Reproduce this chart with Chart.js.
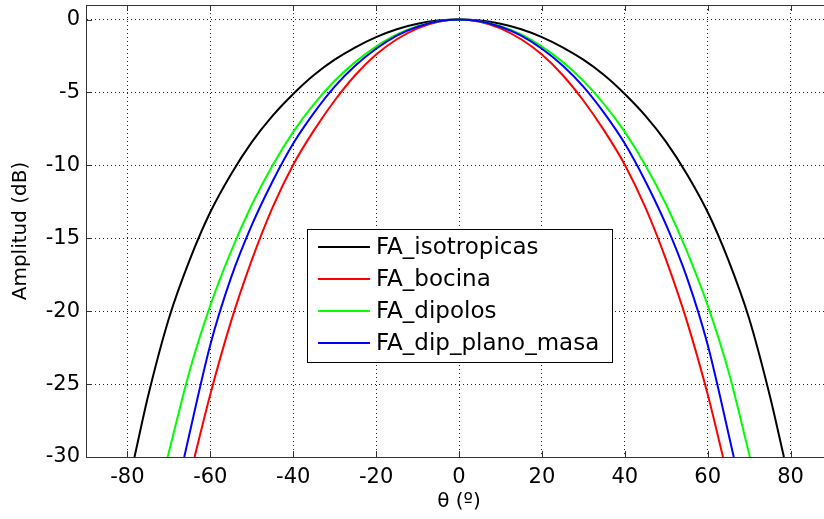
<!DOCTYPE html>
<html>
<head>
<meta charset="utf-8">
<script src="https://cdn.jsdelivr.net/npm/chart.js@4.4.0/dist/chart.umd.min.js"></script>
<style>
    body { margin: 0; background: #fff; overflow: hidden; }
    #wrap { width: 840px; height: 519px; }
</style>
</head>
<body>
<div id="wrap"><canvas id="myChart"></canvas></div>
<script>
// Diagramas de radiación (corte), amplitud normalizada en dB
const seriesNames = ['FA_isotropicas', 'FA_bocina', 'FA_dipolos', 'FA_dip_plano_masa'];
const seriesColors = ['#000000', '#ff0000', '#00ff00', '#0000ff'];

const angIso = [-78.3, -75, -70, -65, -60, -55, -50, -45, -40, -35, -30, -25, -20, -15, -10, -5, 0,
                5, 10, 15, 20, 25, 30, 35, 40, 45, 50, 55, 60, 65, 70, 75, 78.4];
const dbIso  = [-30, -25.8, -20.5, -16.5, -13.2, -10.6, -8.4, -6.6, -5.1, -3.8, -2.75, -1.9, -1.2, -0.66, -0.29, -0.07, 0,
                -0.07, -0.29, -0.66, -1.2, -1.9, -2.75, -3.8, -5.1, -6.6, -8.4, -10.6, -13.2, -16.5, -20.5, -25.8, -30];

const angBoc = [-63.8, -60, -55, -50, -45, -40, -35, -30, -25, -20, -15, -10, -5, 0,
                5, 10, 15, 20, 25, 30, 35, 40, 45, 50, 55, 60, 63.7];
const dbBoc  = [-30, -25.7, -20.7, -16.5, -12.9, -9.95, -7.6, -5.55, -3.8, -2.4, -1.35, -0.6, -0.15, 0,
                -0.15, -0.6, -1.35, -2.4, -3.8, -5.55, -7.6, -9.95, -12.9, -16.5, -20.7, -25.7, -30];

const angDip = [-70.3, -65, -60, -55, -50, -45, -40, -35, -30, -25, -20, -15, -10, -5, 0,
                5, 10, 15, 20, 25, 30, 35, 40, 45, 50, 55, 60, 65, 70.2];
const dbDip  = [-30, -24.1, -19.6, -15.9, -12.7, -10.0, -7.7, -5.8, -4.2, -2.9, -1.85, -1.02, -0.46, -0.11, 0,
                -0.11, -0.46, -1.02, -1.85, -2.9, -4.2, -5.8, -7.7, -10.0, -12.7, -15.9, -19.6, -24.1, -30];

const angPlano = [-66.3, -60, -55, -50, -45, -40, -35, -30, -25, -20, -15, -10, -5, 0,
                  5, 10, 15, 20, 25, 30, 35, 40, 45, 50, 55, 60, 66.3];
const dbPlano  = [-30, -22.3, -17.7, -14.1, -11.1, -8.5, -6.4, -4.6, -3.15, -2.0, -1.1, -0.49, -0.12, 0,
                  -0.12, -0.49, -1.1, -2.0, -3.15, -4.6, -6.4, -8.5, -11.1, -14.1, -17.7, -22.3, -30];

const xTicks = [-80, -60, -40, -20, 0, 20, 40, 60, 80];
const yTicks = [-30, -25, -20, -15, -10, -5, 0];

Chart.defaults.font.family = 'DejaVu Sans';
Chart.defaults.color = '#000';

function puntos(ang, db) {
    return ang.map((a, i) => ({ x: a, y: db[i] }));
}

const allAng = [angIso, angBoc, angDip, angPlano];
const allDb = [dbIso, dbBoc, dbDip, dbPlano];

let datasets = seriesNames.map((name, i) => ({
    label: name,
    data: puntos(allAng[i], allDb[i]),
    borderColor: seriesColors[i],
    borderWidth: 2,
    pointRadius: 0,
    showLine: true,
    fill: false,
    cubicInterpolationMode: 'monotone',
    order: 4 - i // la última serie queda encima
}));

// Marco superior, marcas interiores y leyenda dentro del área
const marcoPlugin = {
    id: 'marco',
    afterDraw(chart) {
        const ctx = chart.ctx;
        const a = chart.chartArea;
        const sx = chart.scales.x, sy = chart.scales.y;
        ctx.save();
        ctx.strokeStyle = '#333';
        ctx.lineWidth = 1;
        ctx.beginPath();
        ctx.moveTo(a.left, a.top + 0.5);
        ctx.lineTo(a.right, a.top + 0.5);
        ctx.moveTo(a.right - 0.5, a.top);
        ctx.lineTo(a.right - 0.5, a.bottom);
        xTicks.forEach(v => {
            let px = Math.round(sx.getPixelForValue(v)) + 0.5;
            ctx.moveTo(px, a.bottom);
            ctx.lineTo(px, a.bottom - 6);
            ctx.moveTo(px, a.top);
            ctx.lineTo(px, a.top + 6);
        });
        yTicks.forEach(v => {
            let py = Math.round(sy.getPixelForValue(v)) + 0.5;
            ctx.moveTo(a.left, py);
            ctx.lineTo(a.left + 6, py);
        });
        ctx.stroke();

        // leyenda
        const box = { x: 307.5, y: 229.5, w: 305, h: 133 };
        ctx.fillStyle = '#fff';
        ctx.fillRect(box.x, box.y, box.w, box.h);
        ctx.strokeStyle = '#000';
        ctx.strokeRect(box.x, box.y, box.w, box.h);
        ctx.font = '23px "DejaVu Sans"';
        ctx.textBaseline = 'middle';
        ctx.textAlign = 'left';
        seriesNames.forEach((name, i) => {
            let y = 247 + i * 32;
            ctx.strokeStyle = seriesColors[i];
            ctx.lineWidth = 2;
            ctx.beginPath();
            ctx.moveTo(318, y);
            ctx.lineTo(370, y);
            ctx.stroke();
            ctx.fillStyle = '#000';
            ctx.fillText(name, 376, y + 1);
        });
        ctx.restore();
    }
};

const fondoPlugin = {
    id: 'fondo',
    beforeDraw(chart) {
        const ctx = chart.ctx;
        ctx.save();
        ctx.fillStyle = '#fff';
        ctx.fillRect(0, 0, chart.width, chart.height);
        ctx.restore();
    }
};

let myChart = document.getElementById('myChart').getContext('2d');

let grafico = new Chart(myChart, {
    type: 'scatter',
    data: { datasets: datasets },
    plugins: [fondoPlugin, marcoPlugin],
    options: {
        responsive: true,
        maintainAspectRatio: false,
        animation: false,
        layout: {
            padding: { left: 0, right: 8, top: 5, bottom: 0 }
        },
        plugins: {
            legend: { display: false },
            tooltip: { enabled: false }
        },
        scales: {
            x: {
                type: 'linear',
                min: -90,
                max: 90,
                afterBuildTicks: s => { s.ticks = xTicks.map(v => ({ value: v })); },
                afterFit: s => {
                    s.height = 62;
                    s.paddingLeft = 0;
                    s.paddingRight = 0;
                },
                grid: {
                    color: '#222',
                    drawTicks: false
                },
                border: { display: true, color: '#333', width: 1, dash: [1, 3] },
                ticks: {
                    font: { size: 21 },
                    padding: 8,
                    maxRotation: 0,
                    callback: v => String(v)
                },
                title: {
                    display: true,
                    text: 'θ (º)',
                    font: { size: 20 },
                    padding: { top: 0, bottom: 5 }
                }
            },
            y: {
                type: 'linear',
                min: -30,
                max: 1,
                afterBuildTicks: s => { s.ticks = yTicks.map(v => ({ value: v })); },
                afterFit: s => {
                    s.width = 86;
                    s.paddingTop = 0;
                    s.paddingBottom = 0;
                },
                grid: {
                    color: '#222',
                    drawTicks: false
                },
                border: { display: true, color: '#333', width: 1, dash: [1, 3] },
                ticks: {
                    font: { size: 21 },
                    padding: 6,
                    callback: v => String(v)
                },
                title: {
                    display: true,
                    text: 'Amplitud (dB)',
                    font: { size: 20 },
                    padding: { top: 9, bottom: 0 }
                }
            }
        }
    }
});
</script>
</body>
</html>
